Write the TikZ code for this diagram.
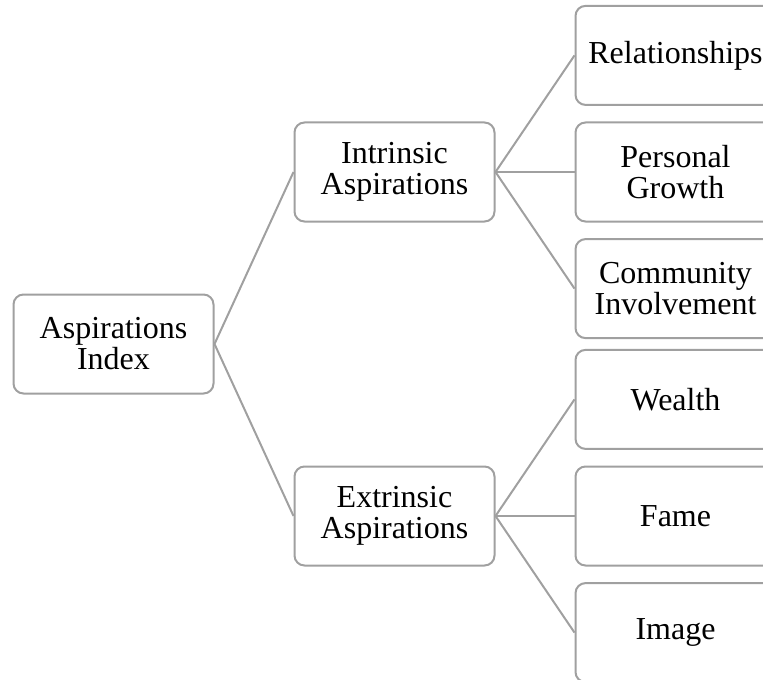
\documentclass[tikz,border=0pt]{standalone}
\usepackage{fontspec}
\setmainfont{Liberation Serif}
\usetikzlibrary{positioning}
\definecolor{colorline}{RGB}{160,160,160}
\definecolor{colortext}{RGB}{ 0, 0, 0}

\begin{document}
\begin{tikzpicture}[
    node distance = 7.8pt, auto,
    font={\fontsize{16}{15.5}\selectfont},
    base/.style={text=colortext,draw=colorline,line width=1pt,fill=white,rounded corners=5pt,
                 align=center,rectangle,inner sep=2pt,minimum width=100pt,minimum height=49.5pt},
    link/.style={draw=colorline,line width=1pt},
]
    \useasboundingbox (0,0) rectangle (381.5pt,-339.5pt);
    \clip (0,0) rectangle (381.5pt,-339.5pt);

    \node[base] (index) at (56.75pt,-172pt) {Aspirations\\Index};

    \node[base,right=39.5pt of index,yshift=86pt]  (intrinsic) {Intrinsic\\Aspirations};
    \node[base,right=39.5pt of index,yshift=-86pt] (extrinsic) {Extrinsic\\Aspirations};

    \draw[link](index.east) -- (intrinsic.west);
    \draw[link](index.east) -- (extrinsic.west);

    \node[base,right=39.5pt of intrinsic] (growth)        {Personal\\Growth};
    \node[base,above=of growth]           (relationships) {Relationships};
    \node[base,below=of growth]           (community)     {Community\\Involvement};

    \draw[link](intrinsic.east) -- (relationships.west);
    \draw[link](intrinsic.east) -- (growth.west);
    \draw[link](intrinsic.east) -- (community.west);

    \node[base,right=39.5pt of extrinsic] (fame)   {Fame};
    \node[base,above=of fame]             (wealth) {Wealth};
    \node[base,below=of fame]             (image)  {Image};

    \draw[link](extrinsic.east) -- (wealth.west);
    \draw[link](extrinsic.east) -- (fame.west);
    \draw[link](extrinsic.east) -- (image.west);

\end{tikzpicture}
\end{document}
